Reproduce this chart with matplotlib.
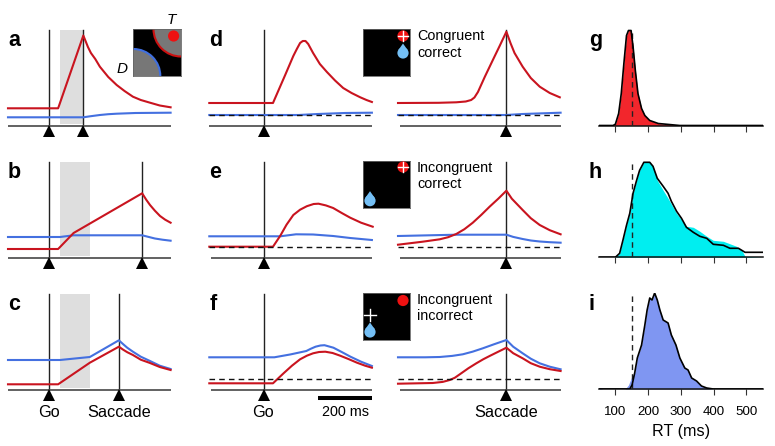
import matplotlib
matplotlib.use("Agg")
import matplotlib.pyplot as plt
from matplotlib.patches import Circle, Polygon

plt.rcParams['font.family'] = ['Liberation Sans', 'DejaVu Sans']

W, H = 775, 446
RED, BLUE = '#c9141f', '#4470e0'
GRAY_AX = '#555555'
DROP = '#74bff5'

# ---- model panels: time (ms) from the aligning event, activity (arb. units) ----
a_red_t = [-150, 35, 128, 145, 156, 172, 189, 220, 251, 280, 311, 340, 374, 410, 450]
a_red_y = [17.7, 17.7, 90.5, 79, 73, 67, 59.3, 49, 41, 35, 29.3, 26, 23.3, 20.5, 18.7]
a_blue_t = [-150, 128, 150, 189, 220, 251, 320, 450]
a_blue_y = [8.7, 8.7, 9.6, 11, 11.8, 12.3, 13, 13.3]

b_red_t = [-150, 35, 92, 345, 360, 374, 392, 411, 430, 450]
b_red_y = [8.7, 8.7, 24.7, 64.4, 58, 52.7, 47, 41.7, 38, 35]
b_blue_t = [-150, 42, 92, 345, 392, 420, 450]
b_blue_y = [20.7, 20.7, 22.4, 22.4, 19.2, 18, 17]

c_red_t = [-150, 35, 152, 259, 275, 290, 311, 340, 374, 410, 450]
c_red_y = [5.4, 5.4, 27, 43, 40, 37.5, 34.7, 30, 26.7, 22.7, 19.7]
c_blue_t = [-150, 42, 152, 259, 275, 290, 311, 340, 374, 410, 450]
c_blue_y = [29.7, 29.7, 32.7, 49.4, 45.5, 42, 38, 33, 28.7, 24, 20.7]

d1_red_t = [-200, 35, 80, 110, 123, 135, 145, 155, 165, 183, 208, 234, 264, 294, 325, 357, 380, 400]
d1_red_y = [23, 23, 51, 70, 77, 83, 85, 85, 82, 73, 62, 54, 45.5, 38, 33, 28.7, 26, 24]
d1_blue_t = [-200, 130, 200, 300, 400]
d1_blue_y = [11, 11, 12, 13, 13.3]
d2_red_t = [-400, -250, -185, -150, -130, -118, -105, -80, -50, -25, 0, 15, 30, 60, 90, 123, 160, 197]
d2_red_y = [23, 23.2, 23.7, 24.5, 26, 28.5, 34, 49, 66, 80, 94.3, 83, 73, 59.3, 48, 39.3, 33, 28.7]
d2_blue_t = [-400, 0, 60, 200]
d2_blue_y = [11, 11, 12, 13.3]

e1_red_t = [-200, 35, 62, 85, 110, 135, 160, 185, 203, 230, 257, 290, 320, 360, 403]
e1_red_y = [11, 11, 22, 33, 42.7, 48, 51.5, 53.7, 54, 52.3, 49.7, 44.5, 40, 35, 31]
e1_blue_t = [-200, 62, 120, 183, 257, 320, 400]
e1_blue_y = [21.4, 21.4, 23.4, 23.2, 21.7, 19.7, 17.7]
e2_red_t = [-400, -309, -246, -215, -185, -155, -124, -92, -62, -30, 0, 20, 60, 90, 123, 160, 200]
e2_red_y = [13, 16, 18.4, 20.5, 23.7, 28.5, 35, 43, 51, 59, 67, 59, 47.7, 39.5, 32.7, 27.5, 23.4]
e2_blue_t = [-400, -185, 0, 25, 60, 90, 123, 160, 200]
e2_blue_y = [21.7, 23, 23, 20.8, 18.7, 17.2, 16.2, 15.5, 15]

f1_red_t = [-200, 35, 74, 105, 135, 160, 183, 205, 228, 255, 283, 315, 345, 375, 400]
f1_red_y = [6.4, 6.4, 16.4, 24, 30.4, 34, 36.4, 37.7, 38, 36.7, 34, 30.5, 27, 24, 22]
f1_blue_t = [-200, 40, 100, 158, 175, 192, 210, 225, 258, 290, 321, 360, 400]
f1_blue_y = [32.4, 32.4, 35.3, 38.7, 41, 43, 44.2, 44.5, 42, 37.5, 33, 28, 23.7]
f2_red_t = [-400, -272, -235, -209, -190, -172, -140, -111, -85, -62, -30, 0, 25, 60, 90, 123, 160, 200]
f2_red_y = [6, 6.7, 7.8, 9.7, 12, 15.4, 21.5, 26.4, 30.5, 33.7, 38, 42, 36.5, 31.4, 26.5, 23, 20.5, 18.7]
f2_blue_t = [-400, -300, -246, -200, -161, -125, -87, -45, 0, 25, 60, 90, 123, 160, 200]
f2_blue_y = [32.4, 32.4, 32.7, 33.8, 35.4, 38, 41.4, 45.5, 49.7, 43, 36.4, 31, 26.4, 23, 20.4]

threshold_d = 11
threshold_e = 10.8
threshold_f = 10.7

# ---- RT distributions ----
rt_ticks = [100, 200, 300, 400, 500]
g_rt = [50, 93, 100, 110, 118, 126, 134, 140, 148, 154, 161, 169, 180, 190, 205, 231, 297, 550]
g_h = [0, 0, 1.3, 12, 32, 62, 90, 95, 95, 79, 55, 32, 17, 10, 5, 2, 0, 0]

h_rt = [50, 100, 113, 123, 134, 144, 154, 164, 174, 187, 205, 215, 228, 246, 261, 271, 287, 302, 317, 338, 358, 379, 399, 430, 450, 476, 496, 521, 550]
h_line = [0, 0, 4, 17, 32, 44, 64, 76, 87, 95, 95, 91, 79, 71, 64, 56, 46, 39, 30, 25, 21, 19, 13, 12, 9, 9, 5, 5, 5]
h_fill_rt = [50, 100, 113, 123, 134, 144, 154, 164, 174, 187, 205, 215, 228, 246, 261, 287, 317, 338, 358, 379, 399, 430, 470, 486, 496, 550]
h_fill = [0, 0, 4, 17, 32, 44, 64, 76, 87, 95, 95, 91, 77, 67, 59, 44, 31, 30, 26, 21, 17, 16, 11, 7, 1, 0]

i_rt = [50, 144, 151, 159, 167, 180, 190, 197, 205, 212, 220, 228, 236, 246, 261, 271, 285, 297, 312, 322, 333, 348, 363, 379, 399, 550]
i_line = [0, 0, 4, 16, 31, 44, 64, 79, 91, 89, 96, 89, 79, 69, 66, 54, 44, 31, 21, 19, 11, 8, 3, 1, 0, 0]
i_fill_rt = [50, 62, 130, 140, 151, 159, 167, 180, 190, 197, 205, 212, 220, 228, 236, 246, 261, 271, 285, 297, 312, 322, 333, 348, 363, 379, 399, 550]
i_fill = [1, 0, 0, 4, 13, 16, 31, 44, 64, 79, 91, 89, 96, 89, 79, 69, 66, 54, 44, 31, 21, 19, 11, 8, 3, 1, 0, 0]

MS_PER_PX = 600 / 162.6
fig = plt.figure(figsize=(W / 100, H / 100), dpi=100)


def box(x0, x1, ytop, ybot):
    return [x0 / W, 1 - ybot / H, (x1 - x0) / W, (ybot - ytop) / H]


def txt(x, y, s, **kw):
    fig.text(x / W, 1 - y / H, s, va='baseline', zorder=50, **kw)


def panel(left, tlim, ybot, red, blue, events, gray=None, thresh=None, axis_start=None):
    ax = fig.add_axes(box(left, left + (tlim[1] - tlim[0]) / MS_PER_PX, ybot - 96, ybot))
    ax.set_xlim(*tlim)
    ax.set_ylim(0, 96)
    ax.axis('off')
    ax.patch.set_alpha(0)
    if gray:
        ax.fill_between(gray, 2, 96, color='#dedede', lw=0, zorder=1)
    for ev in events:
        ax.plot([ev, ev], [0, 96], color='#222222', lw=1.0, zorder=2, clip_on=False)
        ax.plot([ev], [-5.4], marker='^', ms=8.2, color='black', mew=0, clip_on=False, zorder=6)
    a0 = tlim[0] if axis_start is None else axis_start
    ax.plot([a0, tlim[1]], [0, 0], color=GRAY_AX, lw=1.3, clip_on=False, zorder=3, solid_capstyle='butt')
    if thresh is not None:
        ax.plot(tlim, [thresh, thresh], color='#111111', lw=1.0, ls=(0, (4, 3)), zorder=5)
    ax.plot(blue[0], blue[1], color=BLUE, lw=1.5, zorder=4, clip_on=False)
    ax.plot(red[0], red[1], color=RED, lw=1.5, zorder=4.5, clip_on=False)
    return ax


AB = (-150, 450)
LF = (-200, 400)
RT = (-400, 200)
panel(8, AB, 126, (a_red_t, a_red_y), (a_blue_t, a_blue_y), [0, 128], gray=(42, 130))
panel(8, AB, 257.7, (b_red_t, b_red_y), (b_blue_t, b_blue_y), [0, 345], gray=(42, 152))
panel(8, AB, 389.7, (c_red_t, c_red_y), (c_blue_t, c_blue_y), [0, 259], gray=(42, 152))
panel(209.3, LF, 126, (d1_red_t, d1_red_y), (d1_blue_t, d1_blue_y), [0], thresh=threshold_d)
panel(398, RT, 126, (d2_red_t, d2_red_y), (d2_blue_t, d2_blue_y), [0], thresh=threshold_d, axis_start=-392)
panel(209.3, LF, 257.7, (e1_red_t, e1_red_y), (e1_blue_t, e1_blue_y), [0], thresh=threshold_e, axis_start=-193)
panel(398, RT, 257.7, (e2_red_t, e2_red_y), (e2_blue_t, e2_blue_y), [0], thresh=threshold_e, axis_start=-392)
axf = panel(209.3, LF, 389.7, (f1_red_t, f1_red_y), (f1_blue_t, f1_blue_y), [0], thresh=threshold_f, axis_start=-193)
panel(398, RT, 389.7, (f2_red_t, f2_red_y), (f2_blue_t, f2_blue_y), [0], thresh=threshold_f, axis_start=-392)
# 200 ms scale bar
axf.plot([200, 400], [-8.3, -8.3], color='black', lw=2.9, clip_on=False, solid_capstyle='butt', zorder=6)


def inset(x0, y0):
    ax = fig.add_axes(box(x0, x0 + 47.7, y0, y0 + 47))
    ax.set_xlim(0, 47.7)
    ax.set_ylim(47, 0)
    ax.set_xticks([])
    ax.set_yticks([])
    ax.set_facecolor('black')
    for s in ax.spines.values():
        s.set_color('#666666')
        s.set_linewidth(0.6)
    return ax


def cross_mark(ax, x, y, r):
    ax.plot([x - r, x + r], [y, y], color='white', lw=1.0, zorder=4)
    ax.plot([x, x], [y - r, y + r], color='white', lw=1.0, zorder=4)


def dot(ax, x, y, cross=False):
    ax.add_patch(Circle((x, y), 5.6, fc='#ee1111', ec='none', zorder=3))
    if cross:
        cross_mark(ax, x, y, 5.4)


def drop(ax, x, y):
    ax.add_patch(Circle((x, y), 5.6, fc=DROP, ec='none', zorder=3))
    ax.add_patch(Polygon([(x - 4.6, y - 3), (x, y - 9.5), (x + 4.6, y - 3)], fc=DROP, ec='none', zorder=3))


ia = inset(133.3, 29)
ia.add_patch(Circle((47.7, 0), 27.5, fc='#777777', ec='#cc1111', lw=1.5, zorder=2))
ia.add_patch(Circle((0, 47), 27, fc='#777777', ec='#3f6fe0', lw=1.5, zorder=2))
dot(ia, 40.3, 7)

id_ = inset(362.7, 29)
dot(id_, 40.3, 7, cross=True)
drop(id_, 40.3, 24)

ie = inset(362.7, 161)
dot(ie, 40.3, 6, cross=True)
drop(ie, 7.3, 39.7)

if_ = inset(362.7, 293)
dot(if_, 40.3, 7.5)
cross_mark(if_, 7.3, 22, 6)
drop(if_, 7.3, 39)


def hist(ytop, ybot, fill_x, fill_y, line_x, line_y, color, show=False):
    ax = fig.add_axes(box(599, 762.7, ytop, ybot))
    ax.set_xlim(50, 550)
    ax.set_ylim(0, ybot - ytop)
    ax.patch.set_alpha(0)
    for s in ['top', 'left', 'right']:
        ax.spines[s].set_visible(False)
    ax.spines['bottom'].set_linewidth(1.1)
    ax.spines['bottom'].set_color('#111111')
    ax.set_yticks([])
    ax.set_xticks(rt_ticks)
    ax.tick_params(axis='x', length=4.2, width=0.8, color='#333333', labelsize=9.6, pad=8,
                   labelbottom=show)
    ax.fill_between(fill_x, 0, fill_y, color=color, lw=0, zorder=1)
    ax.plot([150, 150], [0, ybot - ytop], color='#222222', lw=1.0, ls=(0, (4, 3)), zorder=3)
    ax.plot(line_x, line_y, color='black', lw=1.2, zorder=4)
    return ax


hist(29, 125.5, g_rt, g_h, g_rt, g_h, '#f2262c')
hist(161, 257.3, h_fill_rt, h_fill, h_rt, h_line, '#00eef0')
hist(293, 389, i_fill_rt, i_fill, i_rt, i_line, '#7f96f2', show=True)

# ---- text ----
letters = [('a', 8, 46), ('b', 8, 178), ('c', 8, 310.5), ('d', 209.5, 46), ('e', 209.5, 178),
           ('f', 209.5, 310), ('g', 589, 46), ('h', 589, 178), ('i', 589, 310)]
for s, x, y in letters:
    txt(x, y, s, fontsize=15.5, fontweight='bold')

txt(171, 24, 'T', fontsize=11, style='italic', ha='center')
txt(122, 73, 'D', fontsize=11, style='italic', ha='center')
txt(417, 40, 'Congruent', fontsize=10.4)
txt(417, 57, 'correct', fontsize=10.4)
txt(417, 172, 'Incongruent', fontsize=10.4)
txt(417, 188.5, 'correct', fontsize=10.4)
txt(417, 304, 'Incongruent', fontsize=10.4)
txt(417, 320.5, 'incorrect', fontsize=10.4)
txt(48.7, 416.7, 'Go', fontsize=11.7, ha='center')
txt(119, 416.7, 'Saccade', fontsize=11.7, ha='center')
txt(263.3, 416.7, 'Go', fontsize=11.7, ha='center')
txt(506.4, 416.7, 'Saccade', fontsize=11.7, ha='center')
txt(345, 416, '200 ms', fontsize=10.4, ha='center')
txt(681, 436, 'RT (ms)', fontsize=11.6, ha='center')

fig.savefig('out.png', dpi=100)
